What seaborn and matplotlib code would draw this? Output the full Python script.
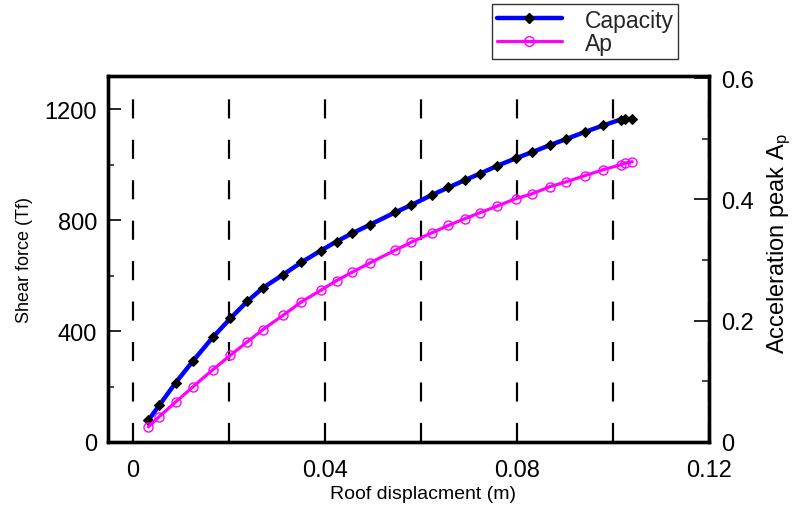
import matplotlib
matplotlib.use("Agg")
import matplotlib.pyplot as plt
import seaborn as sns
import pandas as pd
from matplotlib.ticker import MultipleLocator, FixedLocator
from matplotlib.lines import Line2D

sns.set_theme(style="white")
plt.rcParams['font.family'] = ['Liberation Sans', 'DejaVu Sans']
plt.rcParams['mathtext.fontset'] = 'custom'
plt.rcParams['mathtext.rm'] = 'Liberation Sans'
plt.rcParams['mathtext.it'] = 'Liberation Sans'

roof_disp = [0.0032, 0.0055, 0.0089, 0.0125, 0.0166, 0.0203, 0.0238, 0.0270,
             0.0313, 0.0351, 0.0391, 0.0424, 0.0457, 0.0493, 0.0546, 0.0579,
             0.0623, 0.0657, 0.0691, 0.0723, 0.0759, 0.0797, 0.0831, 0.0869,
             0.0903, 0.0941, 0.0980, 0.1016, 0.1026, 0.1040]
capacity = [78, 133, 214, 292, 377, 446, 507, 555, 604, 648, 690, 723, 753,
            783, 828, 854, 891, 918, 944, 968, 996, 1023, 1045, 1071, 1093,
            1118, 1142, 1163, 1165, 1165]
ap = [0.025, 0.042, 0.066, 0.091, 0.119, 0.143, 0.165, 0.185, 0.209, 0.231,
      0.250, 0.266, 0.280, 0.295, 0.316, 0.329, 0.345, 0.357, 0.368, 0.378,
      0.389, 0.401, 0.409, 0.421, 0.429, 0.439, 0.449, 0.457, 0.460, 0.462]

x_ticks = [0, 0.04, 0.08, 0.12]
x_tick_labels = ["0", "0.04", "0.08", "0.12"]
y2_ticks = [0, 0.2, 0.4, 0.6]
y2_tick_labels = ["0", "0.2", "0.4", "0.6"]

df = pd.DataFrame({"disp": roof_disp, "Capacity": capacity, "Ap": ap})

fig = plt.figure(figsize=(7.96, 5.10), dpi=100)
ax = fig.add_axes([0.1357, 0.1314, 0.755, 0.7176])
ax2 = ax.twinx()

sns.lineplot(data=df, x="disp", y="Capacity", ax=ax, color="#0000ff", lw=3.2,
             marker="D", markersize=5, markerfacecolor="black",
             markeredgecolor="black", zorder=5, legend=False)
sns.lineplot(data=df, x="disp", y="Ap", ax=ax2, color="#ff00ff", lw=2.3,
             marker="o", markersize=6.5, markerfacecolor="none",
             markeredgecolor="#ff00ff", markeredgewidth=1.0, zorder=5, legend=False)

ax.set_xlim(-0.0052, 0.12)
ax.set_ylim(0, 1320)
ax2.set_ylim(0, 0.6033)

ax.xaxis.set_major_locator(FixedLocator(x_ticks))
ax.xaxis.set_minor_locator(FixedLocator([0.02, 0.06, 0.10]))
ax.set_xticklabels(x_tick_labels)
ax.yaxis.set_major_locator(MultipleLocator(400))
ax.yaxis.set_minor_locator(MultipleLocator(200))
ax2.set_yticks(y2_ticks)
ax2.set_yticklabels(y2_tick_labels)
ax2.yaxis.set_minor_locator(MultipleLocator(0.1))

ax.grid(False)
ax2.grid(False)
ax.grid(axis='x', which='both', color='black', lw=1.6, ls=(0, (8.6, 9.6)))
ax.set_axisbelow(True)

for a in (ax, ax2):
    for s in a.spines.values():
        s.set_color('black')
        s.set_linewidth(2.4)

ax.tick_params(axis='x', which='both', length=0, pad=12, labelsize=17, colors='black')
ax.tick_params(axis='y', which='major', direction='in', length=9.5, width=1.2,
               pad=8, labelsize=17, colors='black', left=True)
ax.tick_params(axis='y', which='minor', direction='in', length=4.5, width=1.2, left=True)
ax2.tick_params(axis='y', which='major', direction='in', length=11, width=1.2,
                pad=9, labelsize=17, colors='black', right=True)
ax2.tick_params(axis='y', which='minor', direction='in', length=5, width=1.2, right=True)

ax.set_xlabel("Roof displacment (m)", fontsize=14, color='black')
ax.xaxis.set_label_coords(0.524, -0.118)
ax.set_ylabel("Shear force (Tf)", fontsize=13, labelpad=8, color='black')
ax2.set_ylabel(r"Acceleration peak A$_\mathregular{p}$", fontsize=17, color='black')
ax2.yaxis.set_label_coords(1.094, 0.544)

handles = [
    Line2D([], [], color="#0000ff", lw=3.2, marker="D", markersize=5,
           markerfacecolor="black", markeredgecolor="black"),
    Line2D([], [], color="#ff00ff", lw=2.3, marker="o", markersize=7,
           markerfacecolor="none", markeredgecolor="#ff00ff"),
]
leg = fig.legend(handles, ["Capacity", "Ap"], loc="upper left",
                 bbox_to_anchor=(0.618, 0.990), fontsize=16.5, frameon=True,
                 fancybox=False, handlelength=2.85, handletextpad=1.0,
                 borderpad=0.2, labelspacing=0.0, borderaxespad=0,
                 handleheight=0.8)
leg.get_frame().set_edgecolor('black')
leg.get_frame().set_linewidth(1.0)

fig.savefig("out.png", dpi=100)
